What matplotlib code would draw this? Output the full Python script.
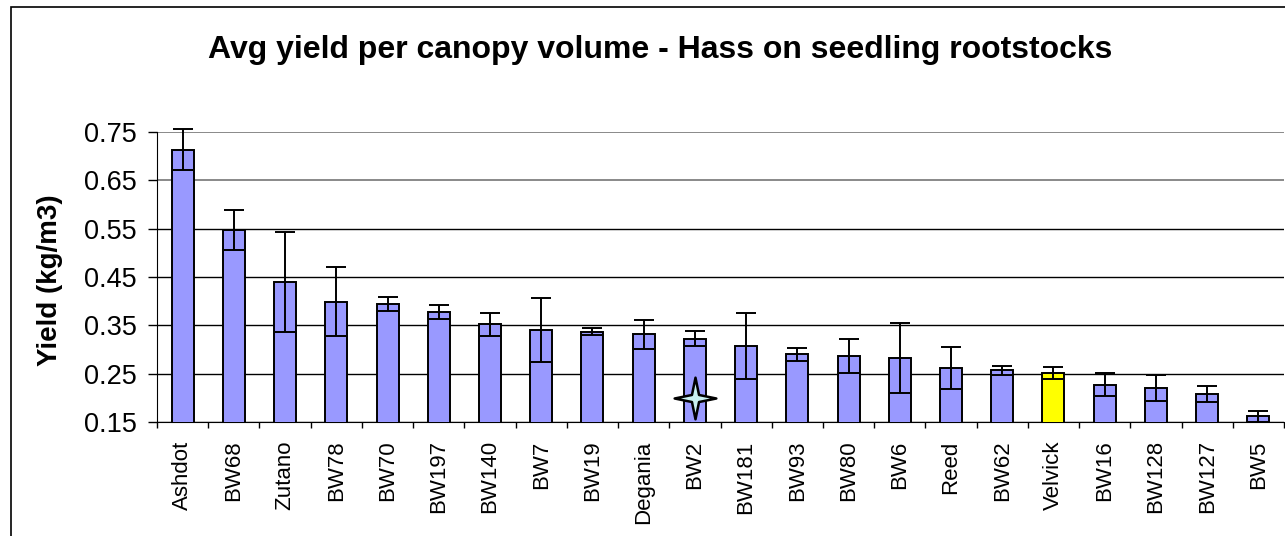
import matplotlib
matplotlib.use('Agg')
import matplotlib.pyplot as plt
import numpy as np
from matplotlib.path import Path
from matplotlib.patches import Rectangle

# rootstock names, in chart order
rootstocks = ['Ashdot', 'BW68', 'Zutano', 'BW78', 'BW70', 'BW197', 'BW140', 'BW7',
              'BW19', 'Degania', 'BW2', 'BW181', 'BW93', 'BW80', 'BW6', 'Reed',
              'BW62', 'Velvick', 'BW16', 'BW128', 'BW127', 'BW5']

# average yield (kg/m3)
yield_avg = [0.713, 0.547, 0.439, 0.399, 0.394, 0.378, 0.352, 0.341,
             0.337, 0.332, 0.323, 0.308, 0.290, 0.286, 0.282, 0.262,
             0.257, 0.252, 0.228, 0.220, 0.208, 0.162]

# error bar half widths
yield_err = [0.043, 0.042, 0.103, 0.071, 0.015, 0.015, 0.023, 0.066,
             0.007, 0.030, 0.015, 0.068, 0.013, 0.035, 0.072, 0.044,
             0.009, 0.0125, 0.024, 0.027, 0.017, 0.012]

highlight = 'Velvick'
star_name = 'BW2'
star_value = 0.20

y_ticks = [0.15, 0.25, 0.35, 0.45, 0.55, 0.65, 0.75]

plt.rcParams['font.family'] = ['Liberation Sans', 'DejaVu Sans']

fig = plt.figure(figsize=(12.85, 5.36), dpi=100)
ax = fig.add_axes([157 / 1285, 113.7 / 536, 1127 / 1285, 290.6 / 536])

x = np.arange(len(rootstocks))
colors = ['#FFFF00' if name == highlight else '#9999FF' for name in rootstocks]

ax.bar(x, yield_avg, width=0.43, color=colors, edgecolor='black', linewidth=1.4, zorder=3)
ax.errorbar(x, yield_avg, yerr=yield_err, fmt='none', ecolor='black', elinewidth=1.4,
            capsize=7.5, capthick=1.4, zorder=4, clip_on=False)

# four pointed star marker
r_in = 0.24
angles = np.deg2rad(np.arange(0, 360, 45))
radii = [1 if i % 2 == 0 else r_in for i in range(8)]
verts = [(r * np.cos(a), r * np.sin(a)) for r, a in zip(radii, angles)]
verts.append(verts[0])
star = Path(verts, [Path.MOVETO] + [Path.LINETO] * 7 + [Path.CLOSEPOLY])
ax.plot([rootstocks.index(star_name)], [star_value], marker=star, markersize=30,
        markerfacecolor='#C8F0F0', markeredgecolor='black', markeredgewidth=1.8,
        linestyle='none', zorder=5, clip_on=False)

ax.set_xlim(-0.5, len(rootstocks) - 0.5)
ax.set_ylim(0.15, 0.75)

ax.set_yticks(y_ticks)
ax.set_yticklabels(['%.2f' % t for t in y_ticks])
ax.tick_params(axis='y', direction='out', length=6.5, width=1, pad=8, labelsize=19.5)

# tick marks between categories, labels in the middle
ax.set_xticks(np.arange(-0.5, len(rootstocks), 1.0))
ax.set_xticklabels([])
ax.set_xticks(x, minor=True)
ax.set_xticklabels(rootstocks, minor=True, rotation=90, fontsize=16)
ax.tick_params(axis='x', which='major', direction='out', length=4.5, width=1)
ax.tick_params(axis='x', which='minor', length=0, pad=13)

ax.yaxis.grid(True, color='black', linewidth=1, zorder=0)
for i, gl in enumerate(ax.get_ygridlines()):
    if y_ticks[i] >= 0.65:
        gl.set_color('#808080')
        gl.set_linewidth(1.3)
ax.set_axisbelow(True)

ax.spines['top'].set_visible(False)
ax.spines['right'].set_visible(False)
ax.spines['left'].set_color('black')
ax.spines['bottom'].set_color('black')

ax.set_ylabel('Yield (kg/m3)', fontsize=20, fontweight='bold')
ax.yaxis.set_label_coords(-0.083, 0.49)

fig.text(660 / 1285, 1 - 58 / 536, 'Avg yield per canopy volume - Hass on seedling rootstocks',
         ha='center', va='baseline', fontsize=23, fontweight='bold')

# chart area border
fig.patches.append(Rectangle((11 / 1285, -0.1), 1.2, 1.1 - 7 / 536, transform=fig.transFigure,
                             fill=False, edgecolor='black', linewidth=1.2))

fig.savefig('out.png', dpi=100)
